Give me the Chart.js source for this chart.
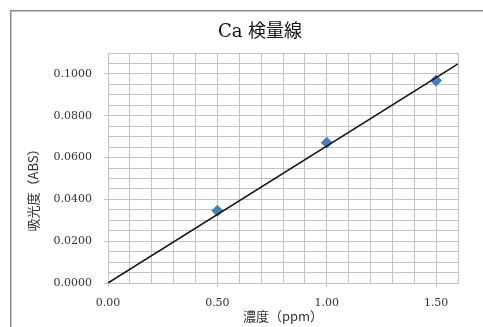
<!DOCTYPE html>
<html>
<head>
<meta charset="utf-8">
<script src="https://cdn.jsdelivr.net/npm/chart.js@4"></script>
<style>
  body { margin: 0; background: #fff; }
  #wrap { width: 483px; height: 327px; position: relative; }
</style>
</head>
<body>
<div id="wrap"><canvas id="myChart"></canvas></div>
<script>
// measured points
const concentration = [0.5, 1.0, 1.5];
const absorbance = [0.0346, 0.0671, 0.0968];
// trendline end points
const trendX = [0, 1.6];
const trendY = [0, 0.1048];
// labelled ticks
const xMajor = [0, 0.5, 1.0, 1.5];
const yMajor = [0, 0.02, 0.04, 0.06, 0.08, 0.10];

const GRID = "#c3c3c3";
const TICKFONT = { family: "DejaVu Serif", size: 11 };

function isMajor(v, list) {
    return list.some(m => Math.abs(m - v) < 1e-6);
}

// frame around the chart, cropped at right/bottom like the original
var framePlugin = {
    id: "frame",
    beforeDraw: function(chart) {
        var ctx = chart.ctx;
        ctx.save();
        ctx.fillStyle = "#fff";
        ctx.fillRect(0, 0, chart.width, chart.height);
        ctx.strokeStyle = "#8a8a8a";
        ctx.lineWidth = 1.5;
        ctx.strokeRect(10.75, 10.75, 1000, 1000);
        ctx.restore();
    }
};

// y axis title sits a bit lower than the plot centre
var yTitlePlugin = {
    id: "yTitle",
    afterDraw: function(chart) {
        var ctx = chart.ctx;
        ctx.save();
        ctx.translate(33, 187);
        ctx.rotate(-Math.PI / 2);
        ctx.font = '13px "Noto Sans CJK JP"';
        ctx.fillStyle = "#333";
        ctx.textAlign = "center";
        ctx.textBaseline = "middle";
        ctx.fillText("吸光度（ABS）", 0, 0);
        ctx.restore();
    }
};

var pts = concentration.map((x, i) => ({ x: x, y: absorbance[i] }));
var trend = trendX.map((x, i) => ({ x: x, y: trendY[i] }));

var myChart = new Chart(document.getElementById("myChart"), {
    type: "scatter",
    data: {
        datasets: [
            {
                data: trend,
                showLine: true,
                borderColor: "#111",
                borderWidth: 1.5,
                pointRadius: 0,
                order: 0
            },
            {
                data: pts,
                pointStyle: "rectRot",
                pointRadius: 5.5,
                pointBackgroundColor: "#4a7ebb",
                pointBorderColor: "#4a7ebb",
                order: 1
            }
        ]
    },
    options: {
        responsive: true,
        maintainAspectRatio: false,
        animation: false,
        layout: { padding: { left: 37, right: 0, top: 0, bottom: 0 } },
        plugins: {
            legend: { display: false },
            tooltip: { enabled: false },
            title: {
                display: true,
                text: "Ca 検量線",
                color: "#111",
                font: { family: '"DejaVu Serif", "Noto Sans CJK JP"', size: 18, weight: "normal", lineHeight: 1.2 },
                padding: { top: 22, bottom: 9.4 }
            }
        },
        scales: {
            x: {
                type: "linear",
                min: 0,
                max: 1.6,
                afterFit: s => { s.height = 44; },
                grid: {
                    color: GRID,
                    tickLength: 4,
                    tickColor: c => isMajor(c.tick.value, xMajor) ? GRID : "rgba(0,0,0,0)"
                },
                border: { color: GRID },
                ticks: {
                    stepSize: 0.1,
                    maxTicksLimit: 100,
                    autoSkip: false,
                    maxRotation: 0,
                    padding: 10,
                    color: "#333",
                    font: TICKFONT,
                    callback: v => isMajor(v, xMajor) ? v.toFixed(2) : ""
                },
                title: {
                    display: true,
                    text: "濃度（ppm）",
                    color: "#333",
                    font: { family: '"Noto Sans CJK JP"', size: 13, lineHeight: 1.2 },
                    padding: { top: 0, bottom: 3.5 }
                }
            },
            y: {
                type: "linear",
                min: 0,
                max: 0.11,
                afterFit: s => { s.width = 71; },
                grid: {
                    color: GRID,
                    tickLength: 4,
                    tickColor: c => isMajor(c.tick.value, yMajor) ? GRID : "rgba(0,0,0,0)"
                },
                border: { color: GRID },
                ticks: {
                    stepSize: 0.005,
                    maxTicksLimit: 100,
                    autoSkip: false,
                    padding: 12,
                    color: "#333",
                    font: TICKFONT,
                    callback: v => isMajor(v, yMajor) ? v.toFixed(4) : ""
                }
            },
            yR: {
                type: "linear",
                position: "right",
                display: true,
                afterFit: s => { s.width = 25; },
                grid: { display: false },
                border: { display: false },
                ticks: { display: false }
            }
        }
    },
    plugins: [framePlugin, yTitlePlugin]
});
</script>
</body>
</html>
